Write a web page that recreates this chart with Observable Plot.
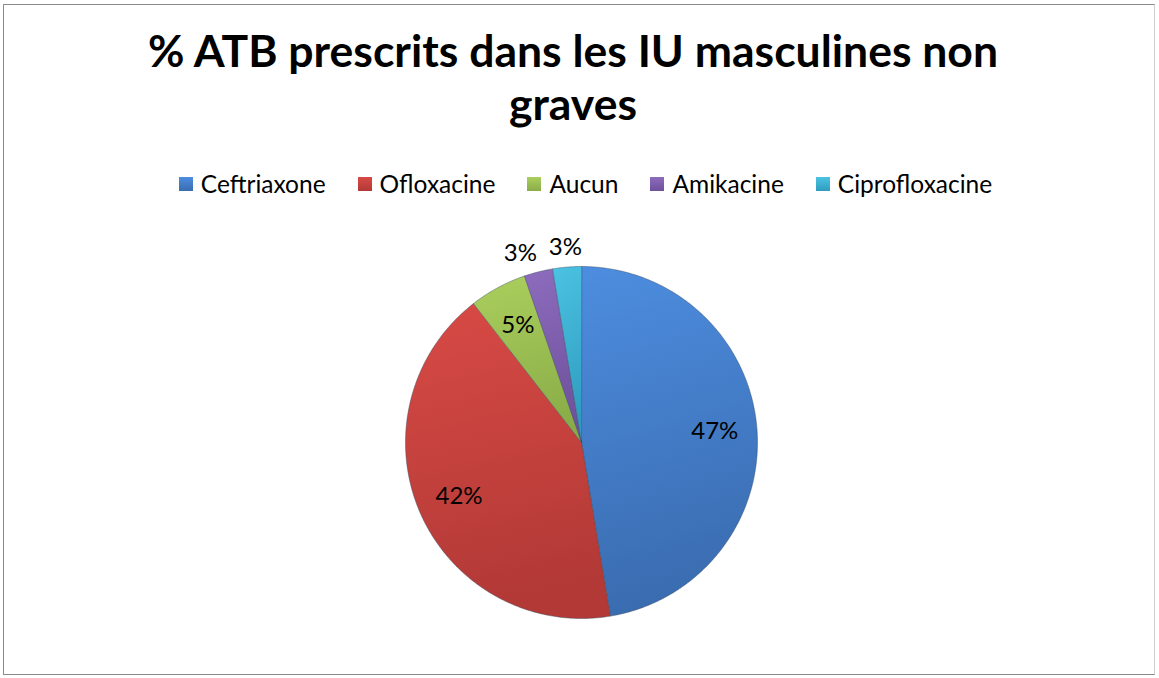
<!DOCTYPE html>
<html>
<head>
<meta charset="utf-8">
<script src="https://cdn.jsdelivr.net/npm/d3@7"></script>
<script src="https://cdn.jsdelivr.net/npm/@observablehq/plot@0.6"></script>
<style>
  html, body { margin: 0; padding: 0; background: #fff; }
  body { width: 1159px; height: 678px; position: relative; overflow: hidden; font-family: Lato, "Open Sans", sans-serif; }
  #frame { position: absolute; left: 3px; top: 4px; width: 1152px; height: 671px; border: 1.5px solid #8a8a8a; border-right-color: #d0d0d0; box-sizing: border-box; }
  #title { position: absolute; left: 0; top: 23px; width: 1146px; text-align: center; font-weight: bold; font-size: 44.5px; line-height: 53px; color: #000; white-space: nowrap; }
  #legend { position: absolute; left: 6px; top: 169px; width: 1159px; display: flex; justify-content: center; font-size: 24.5px; color: #000; }
  .item { display: flex; align-items: center; margin: 0 16px; }
  .sw { width: 14px; height: 14px; margin-right: 8px; }
  #chart { position: absolute; left: 0; top: 220px; }
</style>
</head>
<body>
<div id="frame"></div>
<div id="title">% ATB prescrits dans les IU masculines non<br>graves</div>
<div id="legend"></div>
<div id="chart"></div>
<script>
// ---- data ----
const names = ["Ceftriaxone", "Ofloxacine", "Aucun", "Amikacine", "Ciprofloxacine"];
const counts = [18, 16, 2, 1, 1];
const pctLabels = ["47%", "42%", "5%", "3%", "3%"];
// ---- styles ----
const lightColors = ["#4d8ddf", "#d84a45", "#abcf5d", "#8d6cbd", "#4cc3e3"];
const darkColors  = ["#3a6cb0", "#b23936", "#8aac48", "#6e509c", "#2f9cbf"];

const W = 1159, H = 450;
const R = 176;              // pixel radius
const cx = 581, cy = 222;   // pie centre within svg

const data = names.map((n, i) => ({name: n, count: counts[i], label: pctLabels[i], i}));
const arcs = d3.pie().sort(null).value(d => d.count)(data);

// polygon outline for each slice (unit circle, y up)
function slicePoints(a) {
  const pts = [{x: 0, y: 0}];
  const n = Math.max(4, Math.ceil((a.endAngle - a.startAngle) / (Math.PI / 360)));
  for (let k = 0; k <= n; k++) {
    const t = a.startAngle + (a.endAngle - a.startAngle) * k / n;
    pts.push({x: Math.sin(t), y: Math.cos(t)});
  }
  return pts;
}

const total = d3.sum(counts);
const labelPts = arcs.map(a => {
  const mid = (a.startAngle + a.endAngle) / 2;
  const outside = a.data.count / total < 0.04;
  const r = outside ? 1.11 : 0.76;
  return {x: r * Math.sin(mid), y: r * Math.cos(mid), label: a.data.label, outside};
});
// push overlapping outside labels apart (shift the earlier one left)
const minSep = 45 / R;
for (let k = labelPts.length - 2; k >= 0; k--) {
  const a = labelPts[k], b = labelPts[k + 1];
  if (a.outside && b.outside && b.x - a.x < minSep) a.x = b.x - minSep;
}

const marks = arcs.map((a, i) => Plot.line(slicePoints(a), {
  x: "x", y: "y", curve: "linear-closed",
  fill: `url(#g${i})`, stroke: "#33475e", strokeOpacity: 0.55, strokeWidth: 0.8
}));
marks.push(Plot.text(labelPts, {x: "x", y: "y", text: "label", fontSize: 24, fill: "#000", fontFamily: "Lato, 'Open Sans', sans-serif"}));

const plot = Plot.plot({
  width: W, height: H,
  margin: 0, marginTop: 0, marginRight: 0, marginBottom: 0, marginLeft: 0,
  x: {domain: [-cx / R, (W - cx) / R], range: [0, W], axis: null},
  y: {domain: [-(H - cy) / R, cy / R], range: [H, 0], axis: null},
  style: {background: "transparent", overflow: "visible"},
  marks
});

// gradient definitions
const defs = d3.create("svg:defs");
arcs.forEach((a, i) => {
  const g = defs.append("linearGradient").attr("id", `g${i}`)
    .attr("x1", 0).attr("y1", 0).attr("x2", 0.15).attr("y2", 1);
  g.append("stop").attr("offset", "0%").attr("stop-color", lightColors[i]);
  g.append("stop").attr("offset", "100%").attr("stop-color", darkColors[i]);
});
plot.insertBefore(defs.node(), plot.firstChild);
document.getElementById("chart").appendChild(plot);

// legend
const legend = d3.select("#legend");
names.forEach((n, i) => {
  const it = legend.append("div").attr("class", "item");
  it.append("div").attr("class", "sw")
    .style("background", `linear-gradient(${lightColors[i]}, ${darkColors[i]})`);
  it.append("span").text(n);
});
</script>
</body>
</html>
